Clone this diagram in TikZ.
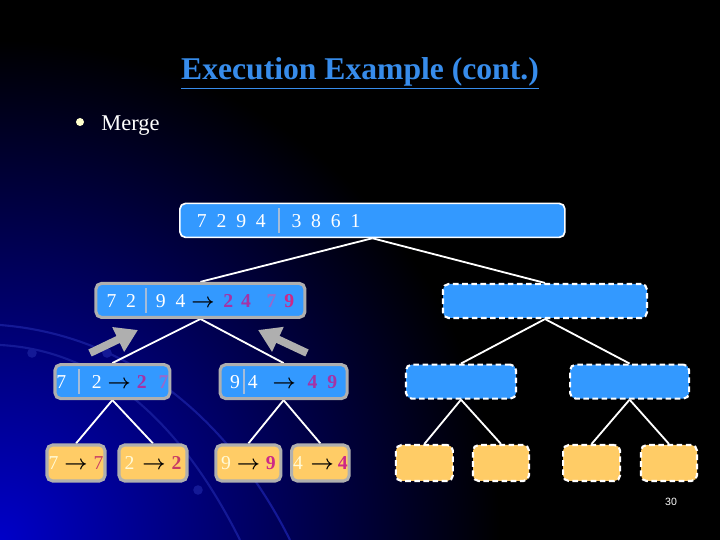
\documentclass[tikz,border=0pt]{standalone}
\usepackage{fontspec}
\setmainfont{Liberation Serif}
\newfontfamily\pagefont{Liberation Sans}
\usepackage{bm}
\usetikzlibrary{arrows.meta}
\pgfdeclarelayer{background}
\pgfdeclarelayer{edgelayer}
\pgfdeclarelayer{nodelayer}
\pgfsetlayers{background,edgelayer,nodelayer,main}
\definecolor{boxblue}{RGB}{51,153,255}
\definecolor{leaforange}{RGB}{255,204,102}
\definecolor{doneborder}{RGB}{175,175,175}
\definecolor{titleblue}{RGB}{55,140,235}
\definecolor{sepbar}{RGB}{165,188,218}
\definecolor{cream}{RGB}{255,250,215}
\definecolor{bulletc}{RGB}{255,255,205}
\definecolor{glowblue}{RGB}{0,0,200}
\definecolor{arcblue}{RGB}{20,25,150}
\definecolor{resP}{RGB}{165,50,165}
\definecolor{resL}{RGB}{150,105,205}
\definecolor{resM}{RGB}{205,40,135}
\definecolor{resR}{RGB}{200,60,100}
\tikzstyle{none}=[inner sep=0pt]
\tikzstyle{edge}=[draw=white, line width=1.3pt]
\tikzstyle{push}=[draw=doneborder, line width=5.5pt, -{Triangle[length=0.55cm,width=0.65cm]}]
\tikzstyle{seq}=[rounded corners=4pt, fill=boxblue, minimum height=0.85cm, inner sep=1pt, text=white, font=\fontsize{14}{16}\selectfont]
\tikzstyle{root}=[seq, draw=white, line width=1.2pt]
\tikzstyle{done}=[seq, draw=doneborder, line width=2.2pt]
\tikzstyle{todo}=[seq, draw=white, line width=1.5pt, dash pattern=on 4pt off 2.5pt]
\tikzstyle{leaf}=[done, fill=leaforange, text=cream, minimum height=0.9cm]
\tikzstyle{todoleaf}=[todo, fill=leaforange, minimum height=0.9cm]
\newcommand{\rarr}{\textcolor{black}{$\bm{\rightarrow}$}}
\newcommand{\outd}[2]{\textcolor{#1}{\textbf{#2}}}
\newcommand{\barsep}[1]{\hspace{#1}{\color{sepbar}\rule[-0.25em]{1.5pt}{1.25em}}\hspace{#1}}

\begin{document}
\begin{tikzpicture}
	\useasboundingbox (0, 0) rectangle (18, 13.5);
	\begin{pgfonlayer}{background}
		\fill [black] (0, 0) rectangle (18, 13.5);
		\begin{scope}
			\clip (0, 0) rectangle (18, 13.5);
			\shade [inner color=glowblue, outer color=black] (0, 0) circle (12.5);
			\draw [arcblue, line width=1.5pt] (0, 5.375) .. controls (3.25, 5.125) and (5.75, 3.0) .. (7.25, 0);
			\draw [arcblue, line width=1.5pt] (0, 4.875) .. controls (2.5, 4.75) and (4.5, 3.0) .. (6, 0);
			\fill [arcblue] (0.8, 4.675) circle (0.12);
			\fill [arcblue] (2.675, 4.675) circle (0.12);
			\fill [arcblue] (4.95, 1.25) circle (0.12);
		\end{scope}
	\end{pgfonlayer}
	\begin{pgfonlayer}{nodelayer}
		\node [style=none, text=titleblue, anchor=base, font=\fontsize{22.5}{26}\selectfont\bfseries] (t) at (9.0, 11.52) {\underline{Execution Example (cont.)}};
		\node [style=none, circle, fill=bulletc, minimum size=0.2cm] (b) at (2.0, 10.45) {};
		\node [style=none, text=white, anchor=base west, font=\fontsize{16}{19}\selectfont] (m) at (2.525, 10.23) {Merge};
		\node [style=root, minimum width=9.625cm, text width=8.775cm, inner xsep=0.425cm, align=left] (0) at (9.31, 7.99) {7\enspace 2\enspace 9\enspace 4\barsep{0.6em}3\enspace 8\enspace 6\enspace 1};
		\node [style=done, minimum width=5.225cm] (1) at (5.01, 5.99) {7\enspace 2\barsep{0.45em}9\enspace 4\hspace{0.3em}\rarr\hspace{0.45em}\outd{resP}{2}\hspace{0.4em}\outd{resP}{4}\hspace{0.8em}\outd{resL}{7}\hspace{0.4em}\outd{resM}{9}};
		\node [style=todo, minimum width=5.1cm] (2) at (13.625, 5.975) {};
		\node [style=done, minimum width=2.775cm] (3) at (2.81, 3.96) {7\barsep{0.6em}2\hspace{0.3em}\rarr\hspace{0.3em}\outd{resP}{2}\hspace{0.6em}\outd{resL}{7}};
		\node [style=done, minimum width=3.175cm] (4) at (7.09, 3.96) {9\barsep{0.15em}4\hspace{0.75em}\rarr\hspace{0.6em}\outd{resP}{4}\enspace\outd{resP}{9}};
		\node [style=todo, minimum width=2.75cm] (5) at (11.525, 3.96) {};
		\node [style=todo, minimum width=2.975cm] (6) at (15.74, 3.96) {};
		\node [style=leaf, minimum width=1.45cm] (7) at (1.9, 1.925) {7\hspace{0.3em}\rarr\hspace{0.3em}\textcolor{resR}{7}};
		\node [style=leaf, minimum width=1.7cm] (8) at (3.825, 1.925) {2\hspace{0.4em}\rarr\hspace{0.3em}\outd{resR}{2}};
		\node [style=leaf, minimum width=1.625cm] (9) at (6.21, 1.925) {9\hspace{0.3em}\rarr\hspace{0.3em}\outd{resM}{9}};
		\node [style=leaf, minimum width=1.375cm] (10) at (8.01, 1.925) {4\hspace{0.4em}\rarr\hspace{0.2em}\outd{resM}{4}};
		\node [style=todoleaf, minimum width=1.425cm] (11) at (10.61, 1.925) {};
		\node [style=todoleaf, minimum width=1.4cm] (12) at (12.525, 1.925) {};
		\node [style=todoleaf, minimum width=1.425cm] (13) at (14.79, 1.925) {};
		\node [style=todoleaf, minimum width=1.4cm] (14) at (16.725, 1.925) {};
		\node [style=none, text=white, font=\pagefont\fontsize{7.5}{9}\selectfont] (p) at (16.775, 0.95) {30};
		\coordinate (20) at (2.25, 4.675);
		\coordinate (21) at (3.45, 5.25);
		\coordinate (22) at (7.675, 4.675);
		\coordinate (23) at (6.45, 5.25);
	\end{pgfonlayer}
	\begin{pgfonlayer}{edgelayer}
		\draw [style=edge] (0.south) to (1.north);
		\draw [style=edge] (0.south) to (2.north);
		\draw [style=edge] (1.south) to (3.north);
		\draw [style=edge] (1.south) to (4.north);
		\draw [style=edge] (2.south) to (5.north);
		\draw [style=edge] (2.south) to (6.north);
		\draw [style=edge] (3.south) to (7.north);
		\draw [style=edge] (3.south) to (8.north);
		\draw [style=edge] (4.south) to (9.north);
		\draw [style=edge] (4.south) to (10.north);
		\draw [style=edge] (5.south) to (11.north);
		\draw [style=edge] (5.south) to (12.north);
		\draw [style=edge] (6.south) to (13.north);
		\draw [style=edge] (6.south) to (14.north);
	\end{pgfonlayer}
	% merged results go back up
	\draw [style=push] (20) to (21);
	\draw [style=push] (22) to (23);
\end{tikzpicture}
\end{document}
